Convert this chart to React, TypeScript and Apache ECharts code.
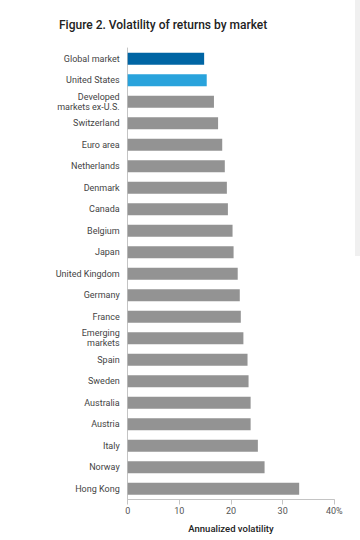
import React, { useEffect, useRef } from "react";
import * as echarts from "echarts";

const categories = [
  "Global market",
  "United States",
  "Developed\nmarkets ex-U.S.",
  "Switzerland",
  "Euro area",
  "Netherlands",
  "Denmark",
  "Canada",
  "Belgium",
  "Japan",
  "United Kingdom",
  "Germany",
  "France",
  "Emerging\nmarkets",
  "Spain",
  "Sweden",
  "Australia",
  "Austria",
  "Italy",
  "Norway",
  "Hong Kong",
];

const volatility = [
  14.8, 15.3, 16.7, 17.5, 18.3, 18.8, 19.2, 19.4, 20.3, 20.5, 21.3, 21.7, 21.9,
  22.4, 23.2, 23.4, 23.8, 23.8, 25.2, 26.5, 33.2,
];

const barColors = ["#0065a4", "#29a3dc"];
const defaultBarColor = "#939393";

const xTicks = [0, 10, 20, 30, 40];

export default function App() {
  const ref = useRef<HTMLDivElement>(null);

  useEffect(() => {
    if (!ref.current) return;
    const chart = echarts.init(ref.current, undefined, { renderer: "svg" });
    const font = "Roboto, 'Liberation Sans', Arial, sans-serif";
    chart.setOption({
      animation: false,
      backgroundColor: "#ffffff",
      title: {
        text: "Figure 2. Volatility of returns by market",
        left: 54,
        top: 14,
        textStyle: {
          fontFamily: font,
          fontSize: 12,
          fontWeight: 500,
          color: "#222222",
        },
      },
      graphic: [
        {
          type: "rect",
          shape: { x: 355, y: 0, width: 5, height: 256 },
          style: { fill: "#f0f0f0" },
          silent: true,
        },
      ],
      grid: {
        left: 127.7,
        right: 25.7,
        top: 48,
        bottom: 40.5,
        containLabel: false,
      },
      xAxis: {
        type: "value",
        min: xTicks[0],
        max: xTicks[xTicks.length - 1],
        interval: 10,
        position: "bottom",
        name: "Annualized volatility",
        nameLocation: "middle",
        nameGap: 24,
        nameTextStyle: {
          fontFamily: font,
          fontSize: 9.5,
          fontWeight: 500,
          color: "#222222",
        },
        axisLine: { show: true, lineStyle: { color: "#c4c4c4", width: 1 } },
        axisTick: {
          show: true,
          length: 5,
          lineStyle: { color: "#c4c4c4", width: 1 },
        },
        axisLabel: {
          margin: 7,
          fontFamily: font,
          fontSize: 9,
          color: "#555555",
          formatter: (v: number) =>
            v === xTicks[xTicks.length - 1] ? `${v}%` : `${v}`,
        },
        splitLine: { show: false },
      },
      yAxis: {
        type: "category",
        data: categories,
        inverse: true,
        axisLine: { show: true, lineStyle: { color: "#c4c4c4", width: 1 } },
        axisTick: { show: false },
        axisLabel: {
          margin: 8,
          fontFamily: font,
          fontSize: 9,
          lineHeight: 10,
          color: "#444444",
          align: "right",
        },
      },
      series: [
        {
          type: "bar",
          data: volatility.map((v, i) => ({
            value: v,
            itemStyle: { color: barColors[i] ?? defaultBarColor },
          })),
          barWidth: 12,
          silent: true,
        },
      ],
    });
    return () => chart.dispose();
  }, []);

  return (
    <div
      ref={ref}
      style={{
        position: "fixed",
        left: 0,
        top: 0,
        width: 360,
        height: 540,
      }}
    />
  );
}
